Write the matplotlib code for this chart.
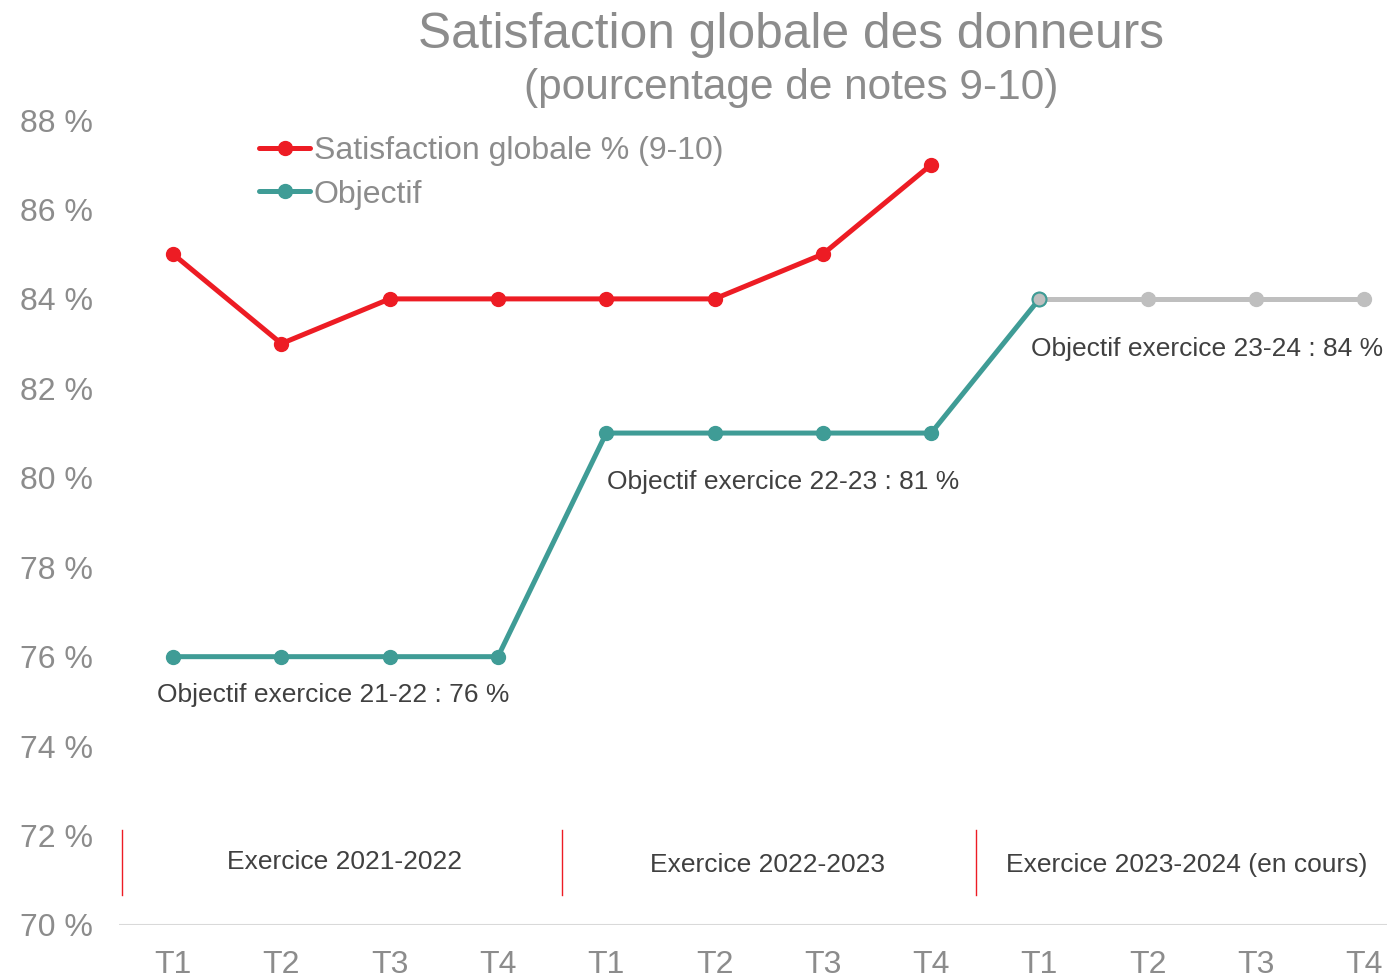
import matplotlib
matplotlib.use("Agg")
import matplotlib.pyplot as plt

plt.rcParams['font.family'] = ['Liberation Sans', 'DejaVu Sans']

# data
quarters = ["T1", "T2", "T3", "T4"] * 3
satisfaction = [85, 83, 84, 84, 84, 84, 85, 87]
objectif = [76, 76, 76, 76, 81, 81, 81, 81, 84]
objectif_futur = [84, 84, 84, 84]   # exercice en cours (T1..T4 2023-2024)
periodes = ["Exercice 2021-2022", "Exercice 2022-2023", "Exercice 2023-2024 (en cours)"]
notes_obj = ["Objectif exercice 21-22 : 76 %", "Objectif exercice 22-23 : 81 %",
             "Objectif exercice 23-24 : 84 %"]
yticks = list(range(70, 89, 2))

red = "#ED1C24"
teal = "#3F9C96"
grey = "#BFBFBF"
txt_grey = "#8C8C8C"
dark = "#404040"

fig = plt.figure(figsize=(13.87, 9.74), dpi=100)
ax = fig.add_axes([119/1387, 49/974, 1268/1387, 805/974])

x_all = list(range(len(quarters)))

# future objective (grey) drawn first, teal on top
ax.plot(x_all[8:], objectif_futur, color=grey, lw=3.6, marker="o", ms=10,
        solid_capstyle="round", zorder=2)
ax.plot(x_all[:len(objectif)], objectif, color=teal, lw=3.6, marker="o", ms=10,
        label="Objectif", solid_capstyle="round", zorder=3)
# last teal point is grey filled
ax.plot([x_all[8]], [objectif[8]], marker="o", ms=10, mfc=grey, mec=teal,
        mew=1.5, ls="none", zorder=4)
ax.plot(x_all[:len(satisfaction)], satisfaction, color=red, lw=3.6, marker="o",
        ms=10, label="Satisfaction globale % (9-10)", solid_capstyle="round", zorder=3)

ax.set_xlim(-0.5, 11.21)
ax.set_ylim(70, 88)
ax.set_xticks(x_all)
ax.set_xticklabels(quarters)
ax.set_yticks(yticks)
ax.set_yticklabels(["{} %".format(v) for v in yticks])
ax.tick_params(axis="both", length=0, labelsize=23, colors=txt_grey)
ax.tick_params(axis="x", pad=18)
ax.tick_params(axis="y", pad=19)

for s in ax.spines.values():
    s.set_visible(False)
ax.axhline(70, color="#D9D9D9", lw=1.5, zorder=1)

# period separators and labels
for xs in [-0.47, 3.59, 7.41]:
    ax.plot([xs, xs], [70.67, 72.13], color=red, lw=1, zorder=1)
ax.text(1.58, 71.4, periodes[0], ha="center", va="center", fontsize=19, color=dark)
ax.text(5.49, 71.35, periodes[1], ha="center", va="center", fontsize=19, color=dark)
ax.text(9.36, 71.35, periodes[2], ha="center", va="center", fontsize=19, color=dark)

# objective annotations
ax.text(1.48, 75.15, notes_obj[0], ha="center", va="center", fontsize=19, color=dark)
ax.text(5.63, 79.9, notes_obj[1], ha="center", va="center", fontsize=19, color=dark)
ax.text(9.55, 82.87, notes_obj[2], ha="center", va="center", fontsize=19, color=dark)

handles, labels = ax.get_legend_handles_labels()
leg = ax.legend(handles[::-1], labels[::-1], loc="upper left",
                bbox_to_anchor=(0.088, 1.016), frameon=False, fontsize=23,
                handlelength=1.6, handletextpad=0.1, labelspacing=0.43,
                labelcolor=txt_grey)

fig.text(791/1387, 1 - 35/974, "Satisfaction globale des donneurs", ha="center",
         va="center", fontsize=35.7, color=txt_grey)
fig.text(791/1387, 1 - 88/974, "(pourcentage de notes 9-10)", ha="center",
         va="center", fontsize=30.5, color=txt_grey)

fig.savefig("out.png", dpi=100)
